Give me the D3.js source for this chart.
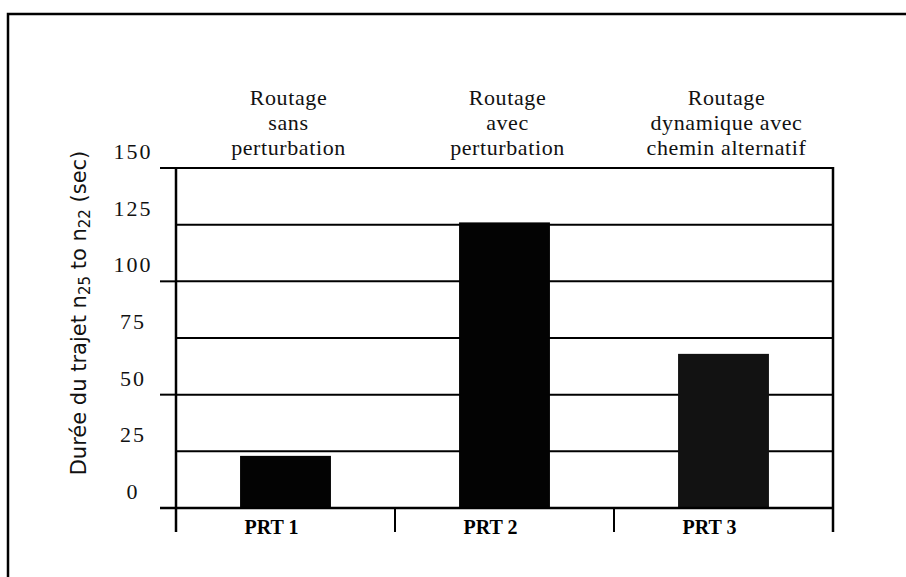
<!DOCTYPE html>
<html>
<head>
<meta charset="utf-8">
<script src="https://cdn.jsdelivr.net/npm/d3@7/dist/d3.min.js"></script>
<style>
  html, body { margin: 0; padding: 0; background: #fff; }
  svg { display: block; }
  .serif { font-family: "Liberation Serif", "DejaVu Serif", serif; }
  .sans { font-family: "DejaVu Sans", sans-serif; }
</style>
</head>
<body>
<svg id="chart" width="906" height="577"></svg>
<script>
// Travel time from n25 to n22 under three routing scenarios
const categories = ["PRT 1", "PRT 2", "PRT 3"];
const durations = [23, 126, 68];
const headers = [
  ["Routage", "sans", "perturbation"],
  ["Routage", "avec", "perturbation"],
  ["Routage", "dynamique avec", "chemin alternatif"]
];
const yTicks = [0, 25, 50, 75, 100, 125, 150];
const yMajorTicks = [0, 50, 100, 150];
const barColors = ["#030303", "#030303", "#121212"];

const svg = d3.select("#chart");
const W = 906, H = 577;
const plot = { left: 176, right: 833, top: 168, bottom: 508 };

// page frame (top and left edges)
svg.append("path")
  .attr("d", `M8,${H} L8,14 L${W},14`)
  .attr("fill", "none").attr("stroke", "#000").attr("stroke-width", 2.5);

const x = d3.scaleBand()
  .domain(categories)
  .range([plot.left, plot.right])
  .paddingInner(0.585)
  .paddingOuter(0.2925);

const y = d3.scaleLinear().domain([0, 150]).range([plot.bottom, plot.top]);

const step = x.step();
const centerOf = c => x(c) + x.bandwidth() / 2;

// horizontal grid lines every 25
svg.append("g").selectAll("line")
  .data(yTicks)
  .join("line")
  .attr("x1", plot.left).attr("x2", plot.right)
  .attr("y1", d => y(d)).attr("y2", d => y(d))
  .attr("stroke", "#000").attr("stroke-width", 2);

// bars
svg.append("g").selectAll("rect")
  .data(durations)
  .join("rect")
  .attr("x", (d, i) => x(categories[i]))
  .attr("width", x.bandwidth())
  .attr("y", d => y(d))
  .attr("height", d => y(0) - y(d))
  .attr("fill", (d, i) => barColors[i]);

// y axis line, right border and major ticks
svg.append("line")
  .attr("x1", plot.left).attr("x2", plot.left)
  .attr("y1", plot.top - 1).attr("y2", plot.bottom + 24)
  .attr("stroke", "#000").attr("stroke-width", 2.5);
svg.append("line")
  .attr("x1", plot.right).attr("x2", plot.right)
  .attr("y1", plot.top - 1).attr("y2", plot.bottom + 24)
  .attr("stroke", "#000").attr("stroke-width", 2.5);
svg.append("g").selectAll("line")
  .data(yMajorTicks)
  .join("line")
  .attr("x1", plot.left - 16).attr("x2", plot.left)
  .attr("y1", d => y(d)).attr("y2", d => y(d))
  .attr("stroke", "#000").attr("stroke-width", 2);

// x-axis baseline and category dividers
svg.append("line")
  .attr("x1", plot.left - 16).attr("x2", plot.right)
  .attr("y1", y(0)).attr("y2", y(0))
  .attr("stroke", "#000").attr("stroke-width", 2.5);
svg.append("g").selectAll("line")
  .data(categories.slice(1))
  .join("line")
  .attr("x1", c => centerOf(c) - step / 2).attr("x2", c => centerOf(c) - step / 2)
  .attr("y1", y(0)).attr("y2", y(0) + 24)
  .attr("stroke", "#000").attr("stroke-width", 2);

// y tick labels
svg.append("g").selectAll("text")
  .data(yTicks)
  .join("text")
  .attr("class", "serif")
  .attr("x", 133)
  .attr("y", d => y(d) - 9)
  .attr("text-anchor", "middle")
  .attr("font-size", 22)
  .attr("letter-spacing", 2)
  .attr("fill", "#111")
  .text(d => d);

// category labels
svg.append("g").selectAll("text")
  .data(categories)
  .join("text")
  .attr("class", "serif")
  .attr("x", c => centerOf(c) - 14)
  .attr("y", y(0) + 26)
  .attr("text-anchor", "middle")
  .attr("font-weight", "bold")
  .attr("font-size", 20)
  .attr("fill", "#000")
  .text(c => c);

// scenario headers above each column
const hdr = svg.append("g").selectAll("text")
  .data(headers)
  .join("text")
  .attr("class", "serif")
  .attr("text-anchor", "middle")
  .attr("font-size", 22)
  .attr("letter-spacing", 0.6)
  .attr("fill", "#111");
hdr.each(function(lines, i) {
  const cx = centerOf(categories[i]) + 3;
  d3.select(this).selectAll("tspan")
    .data(lines)
    .join("tspan")
    .attr("class", "serif")
    .attr("x", cx)
    .attr("y", (d, k) => 105 + k * 25)
    .text(d => d);
});

// y-axis title
const yTitle = svg.append("text")
  .attr("class", "sans")
  .attr("transform", `translate(86,313) rotate(-90)`)
  .attr("text-anchor", "middle")
  .attr("font-size", 21)
  .attr("fill", "#111");
yTitle.append("tspan").text("Durée du trajet n");
yTitle.append("tspan").attr("font-size", 15).attr("dy", 4).text("25");
yTitle.append("tspan").attr("dy", -4).text(" to n");
yTitle.append("tspan").attr("font-size", 15).attr("dy", 4).text("22");
yTitle.append("tspan").attr("dy", -4).text(" (sec)");
</script>
</body>
</html>
